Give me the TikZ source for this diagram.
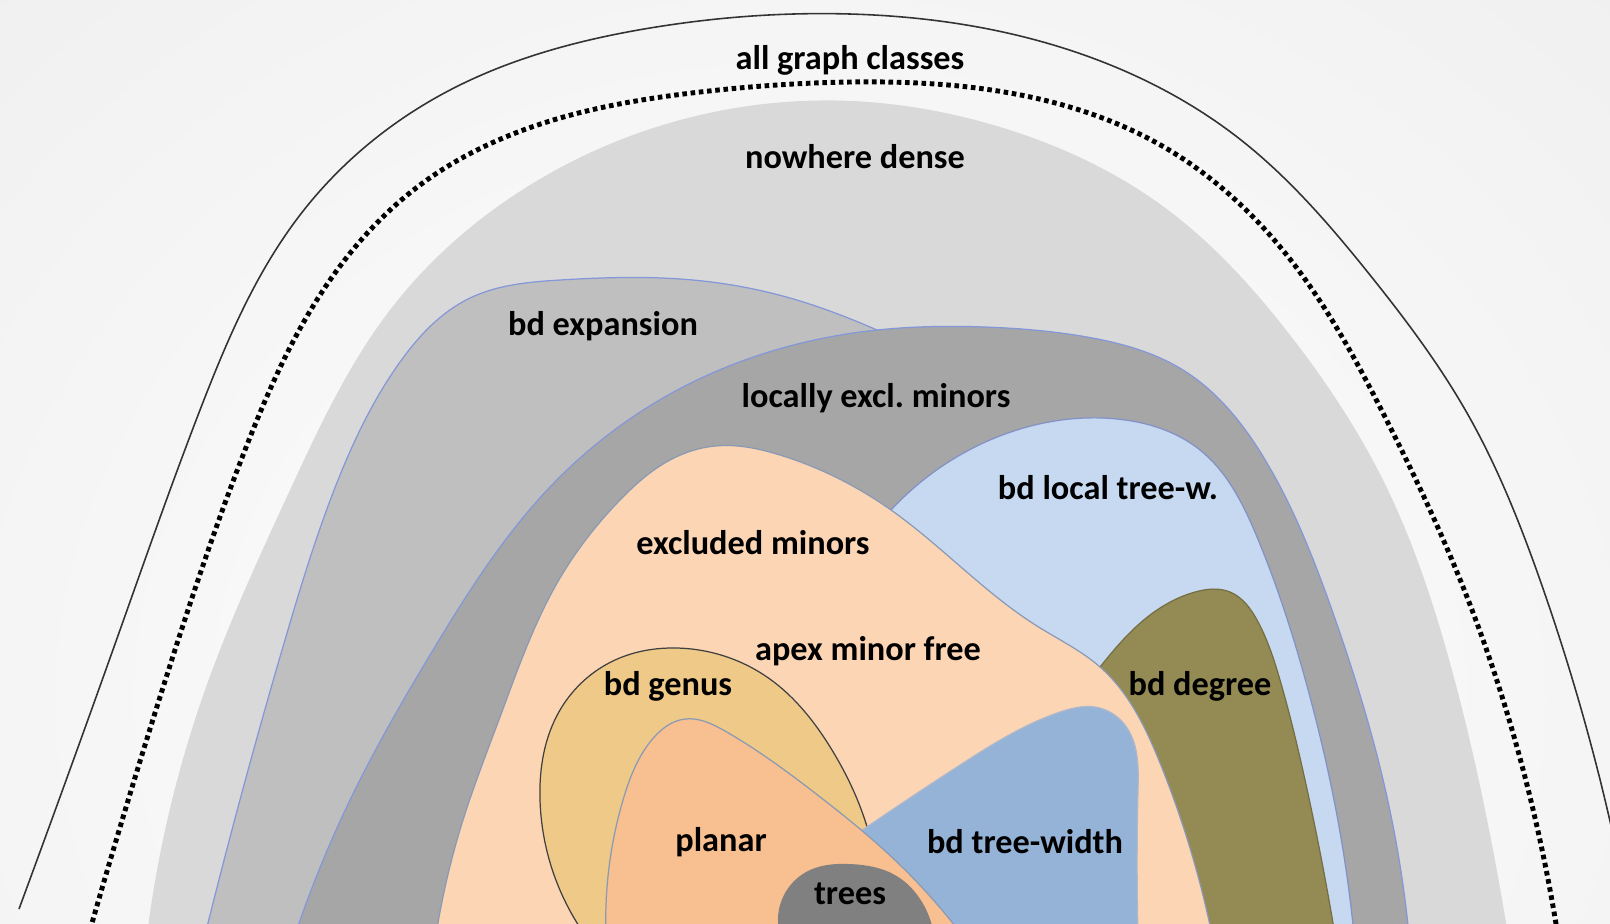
\documentclass[tikz,border=0pt]{standalone}
\usepackage{fontspec}
\setmainfont{Carlito}
\usetikzlibrary{hobby}
\definecolor{ndense}{HTML}{D9D9D9}
\definecolor{bdexp}{HTML}{BFBFBF}
\definecolor{locex}{HTML}{A6A6A6}
\definecolor{loctw}{HTML}{C6D9F1}
\definecolor{bddeg}{HTML}{948A54}
\definecolor{exmin}{HTML}{FCD5B5}
\definecolor{genus}{HTML}{EEC987}
\definecolor{plan}{HTML}{F8BF90}
\definecolor{treew}{HTML}{95B3D7}
\definecolor{treec}{HTML}{808080}
\definecolor{edgeblue}{HTML}{8497D8}
\definecolor{edgegray}{HTML}{8A9AB4}
\begin{document}
\begin{tikzpicture}[x=0.01cm,y=-0.01cm,
  lbl/.style={font=\bfseries\fontsize{9.75}{11}\selectfont, inner sep=0pt},
  thinedge/.style={line width=0.35pt}]
\useasboundingbox (0,0) rectangle (1610,923);
\clip (0,0) rectangle (1610,923);
% soft background
\shade[inner color=white, outer color=black!7] (-600,-500) rectangle (2200,1900);

% all graph classes: thin outer arch
\draw[line width=0.45pt, black!80] (19,909) to[curve through={(120,630) .. (200,410) .. (300,215) .. (450,90) .. (650,28) .. (850,14) .. (1050,44) .. (1241,140) .. (1370,275) .. (1467,413) .. (1540,580)}] (1612,830);

% dotted boundary
\draw[line width=1.4pt, dash pattern=on 1.3pt off 1.05pt] (90,930) to[curve through={(166,678) .. (245,450) .. (320,295) .. (420,185) .. (560,118) .. (700,92) .. (850,82) .. (1010,93) .. (1164,147) .. (1293,263) .. (1383,413) .. (1467,597) .. (1530,797)}] (1557,930);

% nowhere dense
\fill[ndense] (147,935) to[curve through={(205,690) .. (290,490) .. (390,310) .. (530,185) .. (700,115) .. (852,101) .. (1000,127) .. (1164,207) .. (1290,335) .. (1383,480) .. (1450,663) .. (1493,850)}] (1508,935) -- cycle;

% bd expansion
\filldraw[bdexp, draw=edgeblue, thinedge] (205,935) to[curve through={(287,633) .. (338,480) .. (400,362) .. (470,298) .. (560,280) .. (693,280) .. (790,298) .. (877,330)}] (940,360) -- (1000,935) -- cycle;

% locally excluded minors
\filldraw[locex, draw=edgeblue, thinedge] (295,935) to[curve through={(350,800) .. (433,650) .. (550,487) .. (683,387) .. (877,330) .. (985,327) .. (1087,337) .. (1183,370) .. (1267,463) .. (1333,613) .. (1387,797)}] (1409,935) -- cycle;

% bd local tree-width
\filldraw[loctw, draw=edgeblue!80!gray, thinedge] (891,510) to[curve through={(990,440) .. (1117,419) .. (1200,450) .. (1257,537) .. (1310,697) .. (1343,850)}] (1354,935) -- (1000,935) -- (960,700) -- cycle;

% bd degree
\filldraw[bddeg, draw=bddeg!80!black, thinedge] (1060,720) to[curve through={(1100,667) .. (1150,615) .. (1195,592) .. (1230,592) .. (1257,620) .. (1280,680) .. (1305,780)}] (1335,935) -- (1150,935) -- cycle;

% excluded minors
\filldraw[exmin, draw=edgegray, thinedge] (436,935) to[curve through={(463,820) .. (500,717) .. (560,578) .. (620,500) .. (670,460) .. (715,446) .. (780,455) .. (891,510) .. (1037,626) .. (1100,667) .. (1160,763)}] (1212,935) -- cycle;

% bd genus
\filldraw[genus, draw=black!75, thinedge] (585,935) to[curve through={(540,800) .. (560,710) .. (615,660) .. (677,648) .. (767,677) .. (832,750) .. (868,830)}] (878,935) -- cycle;

% bd tree-width
\filldraw[treew, draw=edgegray!70, thinedge] (858,833) to[curve through={(960,765) .. (1060,712) .. (1095,707) .. (1125,725) .. (1138,790)}] (1138,935) -- (900,935) -- cycle;

% planar
\filldraw[plan, draw=edgegray, thinedge] (606,935) to[curve through={(623,800) .. (650,742) .. (685,719) .. (725,731) .. (815,793) .. (898,863)}] (962,935) -- cycle;

% trees
\fill[treec] (780,935) to[curve through={(785,893) .. (810,870) .. (850,864) .. (895,875) .. (922,902)}] (934,935) -- cycle;

% labels
\node[lbl] (allg)  at (850,60)  {all graph classes};
\node[lbl] (nwd)   at (855,157) {nowhere dense};
\node[lbl] (bexp)  at (603,326) {bd expansion};
\node[lbl] (lexm)  at (876,398) {locally excl.\ minors};
\node[lbl] (bltw)  at (1108,488) {bd local tree-w.};
\node[lbl] (exm)   at (753,543) {excluded minors};
\node[lbl] (apex)  at (868,651) {apex minor free};
\node[lbl] (bgen)  at (668,686) {bd genus};
\node[lbl] (bdeg)  at (1200,686) {bd degree};
\node[lbl] (plnr)  at (721,842) {planar};
\node[lbl] (btw)   at (1025,842) {bd tree-width};
\node[lbl] (trs)   at (850,894) {trees};
\end{tikzpicture}
\end{document}
